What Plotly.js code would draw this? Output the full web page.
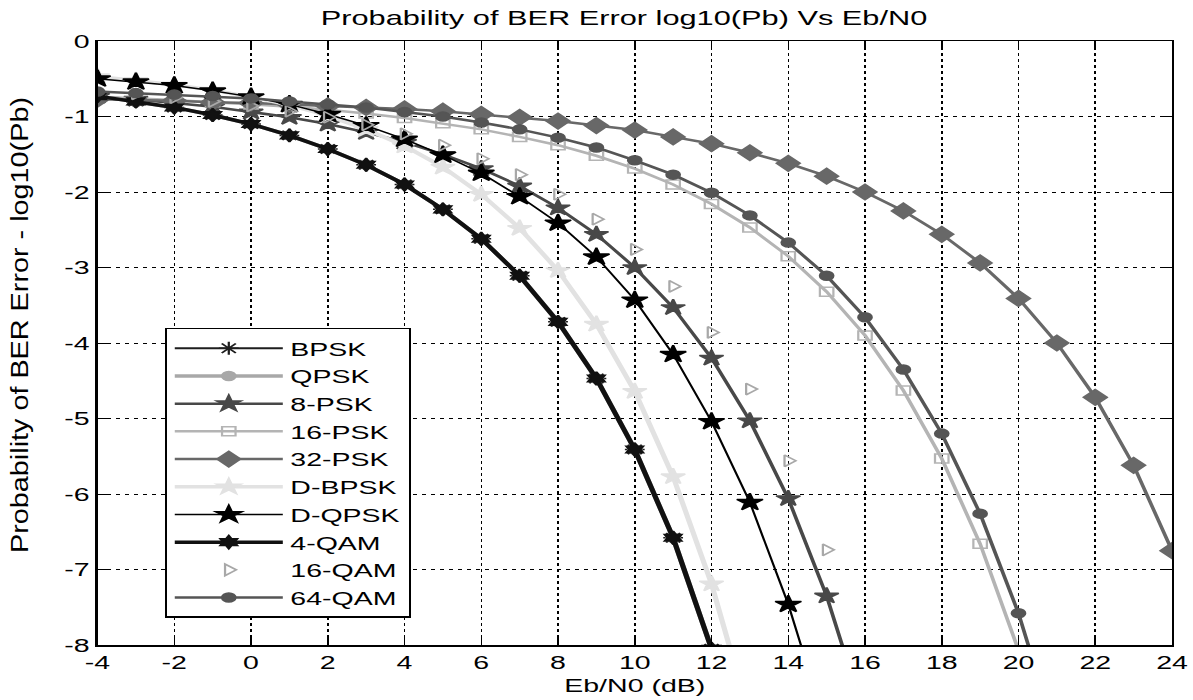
<!DOCTYPE html>
<html>
<head>
<meta charset="utf-8">
<script src="https://cdn.plot.ly/plotly-3.0.1.min.js"></script>
<style>
  html, body { margin: 0; padding: 0; background: #ffffff; overflow: hidden; }
  /* the reference figure is horizontally stretched: draw narrower, then stretch */
  #chart { width: 795px; height: 700px; transform: scaleX(1.50063); transform-origin: 0 0; }
</style>
</head>
<body>
<div id="chart"></div>
<script>
// Eb/N0 axis (dB)
const ebn0 = [-4,-3,-2,-1,0,1,2,3,4,5,6,7,8,9,10,11,12,13,14,15,16,17,18,19,20,21,22,23,24];

// log10(Pb) values
const bpsk   = [-0.73,-0.80,-0.88,-0.98,-1.10,-1.25,-1.43,-1.64,-1.90,-2.23,-2.62,-3.11,-3.72,-4.47,-5.41,-6.58,-8.05];
const qpsk   = [-0.73,-0.80,-0.88,-0.98,-1.10,-1.25,-1.43,-1.64,-1.90,-2.23,-2.62,-3.11,-3.72,-4.47,-5.41,-6.58,-8.05];
const psk8   = [-0.73,-0.77,-0.82,-0.87,-0.94,-1.01,-1.10,-1.21,-1.34,-1.50,-1.69,-1.92,-2.21,-2.56,-3.00,-3.53,-4.20,-5.03,-6.06,-7.35,-8.96];
const psk16  = [-0.74,-0.76,-0.78,-0.81,-0.84,-0.87,-0.91,-0.96,-1.02,-1.09,-1.17,-1.27,-1.38,-1.52,-1.69,-1.90,-2.16,-2.47,-2.85,-3.32,-3.90,-4.63,-5.53,-6.66,-8.07];
const psk32  = [-0.77,-0.78,-0.79,-0.81,-0.82,-0.84,-0.86,-0.88,-0.90,-0.93,-0.97,-1.01,-1.06,-1.12,-1.18,-1.27,-1.36,-1.48,-1.62,-1.79,-2.00,-2.25,-2.56,-2.94,-3.41,-4.00,-4.72,-5.62,-6.75];
const dbpsk  = [-0.47,-0.52,-0.58,-0.65,-0.74,-0.85,-0.99,-1.17,-1.39,-1.67,-2.03,-2.48,-3.04,-3.75,-4.64,-5.77,-7.19,-8.96];
const dqpsk  = [-0.50,-0.54,-0.59,-0.66,-0.74,-0.84,-0.97,-1.12,-1.30,-1.51,-1.75,-2.06,-2.41,-2.86,-3.43,-4.15,-5.04,-6.11,-7.46,-9.10];
const qam4   = [-0.73,-0.80,-0.88,-0.98,-1.10,-1.25,-1.43,-1.64,-1.90,-2.23,-2.62,-3.11,-3.72,-4.47,-5.41,-6.58,-8.05];
const qam16  = [-0.67,-0.70,-0.75,-0.80,-0.86,-0.93,-1.01,-1.11,-1.23,-1.38,-1.56,-1.77,-2.03,-2.36,-2.76,-3.25,-3.86,-4.61,-5.56,-6.74,-8.20];
const qam64  = [-0.67,-0.69,-0.71,-0.73,-0.76,-0.80,-0.84,-0.88,-0.94,-1.00,-1.08,-1.17,-1.28,-1.41,-1.58,-1.77,-2.01,-2.31,-2.67,-3.11,-3.66,-4.35,-5.20,-6.26,-7.58,-9.23];

const names = ['BPSK','QPSK','8-PSK','16-PSK','32-PSK','D-BPSK','D-QPSK','4-QAM','16-QAM','64-QAM'];
const xTicks = [-4,-2,0,2,4,6,8,10,12,14,16,18,20,22,24];
const yTicks = [0,-1,-2,-3,-4,-5,-6,-7,-8];

function tr(name, y, color, width, symbol, msize, mode) {
  return {
    type: 'scatter',
    mode: mode || 'lines+markers',
    name: name,
    x: ebn0.slice(0, y.length),
    y: y,
    line: { color: color, width: width },
    marker: { symbol: symbol, size: msize, color: color, line: { color: color, width: 1.5 } },
    cliponaxis: true
  };
}

const data = [
  tr(names[0], bpsk,  '#1e1e1e', 2,   'asterisk-open', 11),
  tr(names[1], qpsk,  '#a8a8a8', 3.5, 'circle', 9),
  tr(names[2], psk8,  '#484848', 2.5, 'star', 12),
  tr(names[3], psk16, '#b4b4b4', 2.5, 'square-open', 9),
  tr(names[4], psk32, '#686868', 2.5, 'diamond', 12),
  tr(names[5], dbpsk, '#e2e2e2', 3.5, 'star', 12),
  tr(names[6], dqpsk, '#000000', 1.5, 'star', 13),
  tr(names[7], qam4,  '#111111', 3.5, 'hexagram', 10),
  tr(names[8], qam16, '#a8a8a8', 2,   'triangle-right-open', 10, 'markers'),
  tr(names[9], qam64, '#555555', 2.5, 'circle', 9)
];

const FONT = 'Liberation Sans, Arial, Helvetica, sans-serif';
const axisFont = { family: FONT, size: 19, color: '#000' };

const layout = {
  width: 795,
  height: 700,
  margin: { l: 65, r: 14, t: 41, b: 55 },
  paper_bgcolor: '#ffffff',
  plot_bgcolor: '#ffffff',
  showlegend: true,
  title: {
    text: 'Probability of BER Error log10(Pb) Vs Eb/N0',
    font: { family: FONT, size: 20.5, color: '#000' },
    xref: 'paper', x: 0.49, xanchor: 'center', y: 0.974, yanchor: 'middle'
  },
  xaxis: {
    range: [-4, 24],
    tickvals: xTicks,
    ticktext: xTicks.map(String),
    ticks: 'inside', ticklen: 7, tickwidth: 1, tickcolor: '#000',
    mirror: 'ticks', showline: true, linecolor: '#000', linewidth: 1.5,
    showgrid: true, gridcolor: '#000', gridwidth: 1, griddash: 'dot',
    zeroline: false,
    tickfont: axisFont,
    title: { text: 'Eb/N0 (dB)', font: { family: FONT, size: 19, color: '#000' }, standoff: 6 }
  },
  yaxis: {
    range: [-8, 0],
    tickvals: yTicks,
    ticktext: yTicks.map(String),
    ticks: 'inside', ticklen: 7, tickwidth: 1, tickcolor: '#000',
    mirror: 'ticks', showline: true, linecolor: '#000', linewidth: 1.5,
    showgrid: true, gridcolor: '#000', gridwidth: 1, griddash: 'dot',
    zeroline: false,
    tickfont: axisFont,
    title: { text: 'Probability of BER Error - log10(Pb)', font: { family: FONT, size: 16, color: '#000' }, standoff: 8 }
  },
  legend: {
    x: 0.0628, y: 0.525, xanchor: 'left', yanchor: 'top',
    bgcolor: '#ffffff', bordercolor: '#000', borderwidth: 1.5,
    font: { family: FONT, size: 19, color: '#000' },
    itemwidth: 72,
    tracegroupgap: 0
  }
};

Plotly.newPlot('chart', data, layout, { displayModeBar: false, staticPlot: true }).then(function (gd) {
  // the reference's y-axis title is long and narrow: stretch it along its reading direction
  const g = gd.querySelector('.g-ytitle');
  if (g) {
    const bb = g.getBBox();
    const cx = bb.x + bb.width / 2, cy = bb.y + bb.height / 2;
    const k = 456 / bb.height;
    const targetX = 13.5, targetY = 325;
    g.setAttribute('transform',
      'translate(' + targetX + ',' + targetY + ') scale(1,' + k + ') translate(' + (-cx) + ',' + (-cy) + ')');
  }
});
</script>
</body>
</html>
